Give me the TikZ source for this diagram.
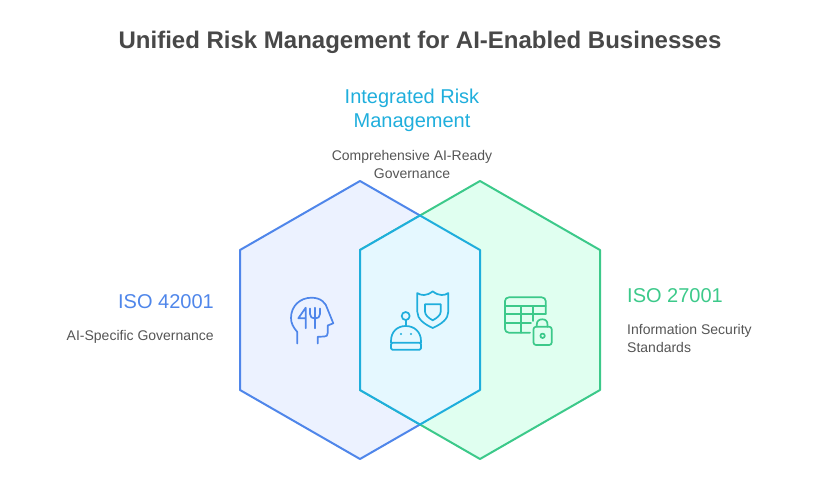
\documentclass[tikz,border=0pt]{standalone}
\usepackage{fontspec}
\setmainfont{Liberation Sans}
\definecolor{ink}{HTML}{484848}
\definecolor{body}{HTML}{555555}
\definecolor{blueline}{HTML}{4F86EA}
\definecolor{bluefill}{HTML}{ECF2FF}
\definecolor{greenline}{HTML}{3CC98A}
\definecolor{greenfill}{HTML}{E0FFF0}
\definecolor{cyanline}{HTML}{1FAEDC}
\definecolor{cyanfill}{HTML}{E5F8FF}
\tikzset{
  hexl/.style={draw=blueline, fill=bluefill, line width=2pt, line join=round},
  hexr/.style={draw=greenline, fill=greenfill, line width=2pt, line join=round},
  hexm/.style={draw=cyanline, fill=cyanfill, line width=2pt, line join=round},
  icon/.style={line width=1.7pt, line cap=round, line join=round},
  titlelab/.style={text=ink, font=\fontsize{24}{28}\selectfont\bfseries, inner sep=0pt},
  headlab/.style={font=\fontsize{20}{24}\selectfont, inner sep=0pt},
  sublab/.style={text=body, font=\fontsize{14}{18}\selectfont, inner sep=0pt},
}
\begin{document}
\begin{tikzpicture}[x=1pt,y=-1pt]
  \useasboundingbox (0,0) rectangle (840,498);
  % hexagons
  \draw[hexl] (360,181)--(480,250)--(480,390)--(360,459)--(240,390)--(240,250)--cycle;
  \draw[hexr] (480,181)--(600,250)--(600,390)--(480,459)--(360,390)--(360,250)--cycle;
  \draw[hexm] (420,215.5)--(480,250)--(480,390)--(420,424.5)--(360,390)--(360,250)--cycle;
  % texts
  \node[titlelab] (title) at (420,42) {Unified Risk Management for AI-Enabled Businesses};
  \node[headlab,text=cyanline,align=center] (midhead) at (412,110) {Integrated Risk\\Management};
  \node[sublab,align=center] (midsub) at (412,164) {Comprehensive AI-Ready\\Governance};
  \node[headlab,text=blueline,anchor=east] (lefthead) at (214,302) {ISO 42001};
  \node[sublab,anchor=east] (leftsub) at (214,337) {AI-Specific Governance};
  \node[headlab,text=greenline,anchor=west] (righthead) at (627,296) {ISO 27001};
  \node[sublab,align=left,anchor=west] (rightsub) at (627,338) {Information Security\\Standards};
  % head with fork and knife
  \begin{scope}[icon,draw=blueline]
    \draw (297.3,343.5)--(297.3,332) .. controls (293,327) and (291,323) .. (291,318)
      .. controls (291,306) and (300,297.7) .. (311.5,297.7)
      .. controls (321,297.7) and (326,303) .. (327.5,309)
      -- (333.3,323.3) -- (327.7,325.5) -- (327.7,333) .. controls (327.7,335.5) and (326.5,336.5) .. (324.5,336.5)
      -- (317.7,336.8) -- (317.7,343.5);
    \draw (305.7,328.3)--(305.7,307.7)--(298.3,318.3)--(305.7,318.3);
    \draw (315,307.7)--(315,328.3);
    \draw (310,308.5)--(310,314) .. controls (310,317) and (312,318.5) .. (315,318.5)
      .. controls (318,318.5) and (320,317) .. (320,314) -- (320,308.5);
  \end{scope}
  % shield
  \begin{scope}[icon,draw=cyanline]
    \draw (417.3,293)--(417.3,311.7) .. controls (417.3,319) and (424,324) .. (432.7,328)
      .. controls (441.5,324) and (448.3,319) .. (448.3,311.7) -- (448.3,293)
      .. controls (445,295.5) and (439,296.5) .. (432.7,291.3)
      .. controls (426.5,296.5) and (420.5,295.5) .. (417.3,293) -- cycle;
    \draw (425,304.3) -- (440.7,304.3) -- (440.7,311.7) .. controls (440.7,315) and (437,318) .. (432.7,320.3)
      .. controls (428.5,318) and (425,315) .. (425,311.7) -- cycle;
    % robot
    \draw (405.7,316) circle (4);
    \draw (405.7,320)--(405.7,326);
    \draw (391,342.7) -- (391,341) .. controls (391,332) and (397,326) .. (405.7,326)
      .. controls (414.5,326) and (421,332) .. (421,341) -- (421,342.7);
    \draw[rounded corners=1.5pt] (391,342.7) -- (391,349.8) -- (421,349.8) -- (421,342.7) -- cycle;
    \fill[cyanline] (401,334) circle (1.1) (411,334) circle (1.1);
  \end{scope}
  % table and lock
  \begin{scope}[icon,draw=greenline]
    \draw (530,332.7) -- (509,332.7) .. controls (506.5,332.7) and (505,331) .. (505,329)
      -- (505,301) .. controls (505,299) and (506.5,297.3) .. (509,297.3)
      -- (541.7,297.3) .. controls (544,297.3) and (545.7,299) .. (545.7,301) -- (545.7,314);
    \draw (505,306)--(545.7,306);
    \draw (505,314.3)--(545.7,314.3);
    \draw (505,322.7)--(531,322.7);
    \draw (520.8,306)--(520.8,332.7);
    \draw (532.7,306)--(532.7,321);
    \draw[rounded corners=2.5pt] (533.5,326.7) rectangle (551.7,345);
    \draw (536.8,326.7)--(536.8,324.5) .. controls (536.8,321) and (539,319.3) .. (542.3,319.3)
      .. controls (545.5,319.3) and (547.5,321) .. (547.5,324.5) -- (547.5,326.7);
    \draw (542.6,335.8) circle (2.2);
  \end{scope}
\end{tikzpicture}
\end{document}
